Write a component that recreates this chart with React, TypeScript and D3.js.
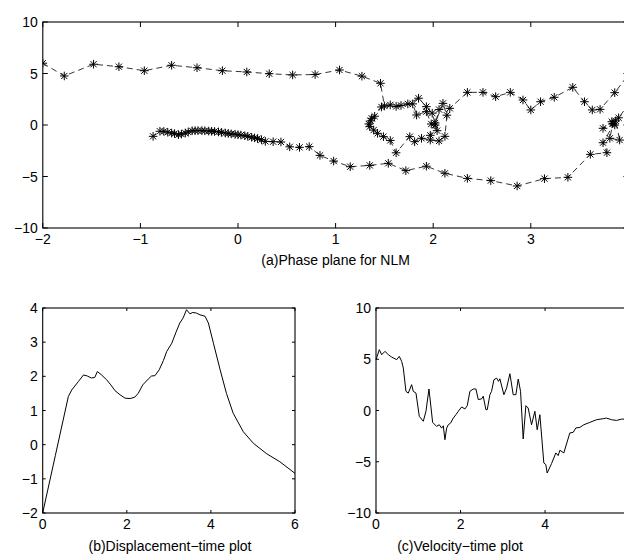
import React from "react";
import * as d3 from "d3";

// ---- Data ----
// (a) phase plane samples: [displacement, velocity]
const phaseX: number[] = [
  -2.0, -1.78, -1.48, -1.22, -0.96, -0.68, -0.42, -0.16, 0.09, 0.32, 0.56, 0.79, 1.04, 1.27, 1.46,
  1.5, 1.62, 1.74, 1.85, 1.93, 1.99, 2.04, 1.97, 2.02, 2.1, 2.14, 2.12, 2.06, 1.97, 1.88, 1.81, 1.76, 1.62,
  1.56, 1.49, 1.43, 1.39, 1.35, 1.34, 1.36, 1.37, 1.4, 1.47, 1.56, 1.67, 1.79, 1.83, 1.93, 1.98, 2.02, 2.06, 2.17,
  2.35, 2.51, 2.64, 2.79, 2.92, 3.0, 3.1, 3.24, 3.43, 3.55, 3.63, 3.71, 3.86, 4.01, 4.01, 3.9, 3.83, 3.86,
  3.74, 3.84, 3.81, 3.91, 3.87, 3.74, 3.78, 3.61,
  3.38, 3.14, 2.86, 2.59, 2.35, 2.12, 1.93, 1.72, 1.54, 1.35, 1.15, 0.98, 0.84, 0.73, 0.63, 0.53, 0.44, 0.36, 0.28,
  0.24, 0.2, 0.17, 0.14, 0.1, 0.07, 0.03, 0.0, -0.03, -0.07, -0.1, -0.13, -0.17, -0.2, -0.24, -0.27, -0.3,
  -0.34, -0.37, -0.41, -0.44, -0.47, -0.51, -0.54, -0.58, -0.61, -0.65, -0.68, -0.72, -0.76, -0.8, -0.87,
];
const phaseV: number[] = [
  6.0, 4.76, 5.9, 5.66, 5.27, 5.8, 5.56, 5.27, 5.15, 4.98, 4.86, 4.9, 5.34, 4.74, 4.05,
  1.85, 1.8, 2.05, 2.6, 1.78, 1.15, -0.55, -1.0, 0.2, 2.1, 0.95, -1.1, -1.55, -1.46, -1.29, -1.62, -1.13, -2.7,
  -1.5, -1.13, -0.81, -0.49, -0.16, 0.1, 0.4, 0.65, 0.85, 1.75, 1.95, 1.9, 2.05, 0.97, 1.3, 0.1, 0.0, 1.5, 1.62,
  3.17, 3.17, 2.75, 3.17, 2.43, 1.46, 2.26, 2.69, 3.66, 2.26, 1.46, 1.52, 3.14, 5.0, 2.1, 0.7, 0.32, 0.0,
  -0.32, 0.15, -1.29, -1.46, 0.4, -1.72, -2.69, -2.85,
  -5.08, -5.21, -5.92, -5.4, -5.18, -4.69, -4.0, -4.43, -3.72, -3.92, -4.05, -3.5, -2.95, -2.1, -2.17, -2.12, -1.65, -1.62, -1.59,
  -1.43, -1.32, -1.25, -1.19, -1.1, -1.04, -0.98, -0.94, -0.9, -0.86, -0.82, -0.78, -0.72, -0.67, -0.63, -0.61, -0.59,
  -0.56, -0.55, -0.55, -0.55, -0.56, -0.68, -0.78, -0.88, -0.94, -0.84, -0.78, -0.7, -0.62, -0.61, -1.1,
];

// (b) displacement vs time
const dispT: number[] = [
  0, 0.3, 0.61, 0.69, 0.85, 0.97, 1.06, 1.16, 1.24, 1.3, 1.4, 1.52, 1.62, 1.72, 1.84, 1.96, 2.08, 2.19, 2.27,
  2.38, 2.51, 2.59, 2.67, 2.77, 2.87, 2.95, 3.07, 3.17, 3.26, 3.34, 3.42, 3.5, 3.57, 3.66, 3.74, 3.86, 3.94,
  4.06, 4.22, 4.37, 4.53, 4.77, 5.01, 5.32, 5.64, 6.0,
];
const dispX: number[] = [
  -2.0, -0.32, 1.41, 1.6, 1.85, 2.04, 2.01, 1.95, 1.97, 2.14, 2.04, 1.9, 1.75, 1.58, 1.46, 1.36, 1.35, 1.39, 1.5,
  1.75, 1.92, 2.01, 2.02, 2.19, 2.46, 2.73, 2.97, 3.29, 3.56, 3.71, 3.95, 3.83, 3.87, 3.85, 3.8, 3.76, 3.56,
  2.97, 2.19, 1.5, 0.92, 0.38, 0.04, -0.26, -0.5, -0.84,
];

// (c) velocity vs time
const velT: number[] = [
  0, 0.079, 0.134, 0.213, 0.292, 0.37, 0.489, 0.551, 0.607, 0.646, 0.709, 0.764, 0.843, 0.882, 0.946,
  1.024, 1.119, 1.182, 1.253, 1.34, 1.434, 1.497, 1.553, 1.592, 1.631, 1.671, 1.71, 1.765, 1.828, 1.891,
  1.946, 2.025, 2.104, 2.159, 2.222, 2.301, 2.364, 2.42, 2.498, 2.537, 2.6, 2.632, 2.695, 2.734, 2.79,
  2.853, 2.9, 2.93, 3.026, 3.09, 3.168, 3.246, 3.31, 3.365, 3.42, 3.483, 3.546, 3.6, 3.68, 3.759, 3.814,
  3.877, 3.971, 4.018, 4.05, 4.153, 4.255, 4.31, 4.35, 4.444, 4.586, 4.665, 4.728, 4.823, 4.917, 5.059,
  5.217, 5.375, 5.454, 5.572, 5.69, 5.809, 6.0,
];
const velV: number[] = [
  4.96, 5.93, 5.44, 5.77, 5.44, 5.21, 4.96, 5.28, 4.8, 4.14, 1.87, 1.7, 2.52, 1.87, 1.7,
  -0.57, -1.05, -0.08, 2.1, -1.16, -1.55, -1.39, -1.72, -1.49, -2.85, -1.72, -1.39, -1.23, -0.74, -0.41,
  -0.08, 0.34, 0.15, 0.47, 1.87, 2.1, 2.1, 1.06, 1.13, 1.39, 0.08, 0.08, 1.54, 1.87, 3.0,
  3.16, 2.84, 3.1, 1.54, 2.19, 3.59, 1.54, 1.54, 3.07, 1.87, -2.78, 0.47, 0.24, -1.39, -0.08, -1.88,
  -0.41, -5.12, -5.28, -6.1, -5.18, -4.14, -4.4, -3.88, -4.14, -2.19, -2.13, -1.7, -1.65, -1.39, -1.16,
  -0.9, -0.8, -0.74, -0.9, -0.97, -0.84, -0.85,
];

const phaseXTicks = [-2, -1, 0, 1, 2, 3, 4];
const phaseYTicks = [-10, -5, 0, 5, 10];
const dispXTicks = [0, 2, 4, 6];
const dispYTicks = [-2, -1, 0, 1, 2, 3, 4];
const velXTicks = [0, 2, 4, 6];
const velYTicks = [-10, -5, 0, 5, 10];

const titleA = "(a)Phase plane for NLM";
const titleB = "(b)Displacement\u2212time plot";
const titleC = "(c)Velocity\u2212time plot";

const W = 624;
const H = 557;
const FONT = "'Liberation Sans', Arial, Helvetica, sans-serif";
const FS = 14;

const fmt = (v: number) => (v < 0 ? "\u2212" + Math.abs(v) : String(v));

type AxesProps = {
  x: d3.ScaleLinear<number, number>;
  y: d3.ScaleLinear<number, number>;
  xticks: number[];
  yticks: number[];
  tick: number;
};

function Axes({ x, y, xticks, yticks, tick }: AxesProps) {
  const [x0, x1] = x.range();
  const [y0, y1] = y.range(); // y0 bottom, y1 top
  return (
    <g>
      <rect x={x0} y={y1} width={x1 - x0} height={y0 - y1} fill="none" stroke="#000" strokeWidth={1.1} />
      {xticks.map((t) => (
        <g key={"x" + t}>
          <line x1={x(t)} x2={x(t)} y1={y0} y2={y0 - tick} stroke="#000" strokeWidth={1} />
          <line x1={x(t)} x2={x(t)} y1={y1} y2={y1 + tick} stroke="#000" strokeWidth={1} />
          {x(t) < W - 6 && (
            <text x={x(t)} y={y0 + 16} textAnchor="middle" fontFamily={FONT} fontSize={FS} fill="#000">
              {fmt(t)}
            </text>
          )}
        </g>
      ))}
      {yticks.map((t) => (
        <g key={"y" + t}>
          <line x1={x0} x2={x0 + tick} y1={y(t)} y2={y(t)} stroke="#000" strokeWidth={1} />
          <line x1={x1} x2={x1 - tick} y1={y(t)} y2={y(t)} stroke="#000" strokeWidth={1} />
          <text x={x0 - 5} y={y(t) + 5} textAnchor="end" fontFamily={FONT} fontSize={FS} fill="#000">
            {fmt(t)}
          </text>
        </g>
      ))}
    </g>
  );
}

function Star({ cx, cy }: { cx: number; cy: number }) {
  const r = 4.3;
  const d = r * 0.72;
  const p = `M${cx - r},${cy}H${cx + r}M${cx},${cy - r}V${cy + r}M${cx - d},${cy - d}L${cx + d},${cy + d}M${cx - d},${cy + d}L${cx + d},${cy - d}`;
  return <path d={p} stroke="#000" strokeWidth={1} fill="none" />;
}

export default function App() {
  // (a)
  const xa = d3.scaleLinear().domain([-2, 4]).range([42.8, 628.4]);
  const ya = d3.scaleLinear().domain([-10, 10]).range([228, 22]);
  const phasePts = phaseX.map((v, i) => [v, phaseV[i]] as [number, number]);
  const lineA = d3
    .line<[number, number]>()
    .x((d) => xa(d[0]))
    .y((d) => ya(d[1]));

  // (b)
  const xb = d3.scaleLinear().domain([0, 6]).range([42.7, 295]);
  const yb = d3.scaleLinear().domain([-2, 4]).range([513, 308]);
  const lineB = d3
    .line<number>()
    .x((_, i) => xb(dispT[i]))
    .y((d) => yb(d));

  // (c)
  const xc = d3.scaleLinear().domain([0, 6]).range([376, 629.6]);
  const yc = d3.scaleLinear().domain([-10, 10]).range([513, 308]);
  const lineC = d3
    .line<number>()
    .x((_, i) => xc(velT[i]))
    .y((d) => yc(d));

  return (
    <svg
      width={W}
      height={H}
      style={{ position: "absolute", left: 0, top: 0, background: "#fff" }}
      xmlns="http://www.w3.org/2000/svg"
    >
      <rect width={W} height={H} fill="#fff" />
      <defs>
        <clipPath id="clipA">
          <rect x={42.8} y={22} width={585.6} height={206} />
        </clipPath>
      </defs>

      {/* (a) Phase plane */}
      <g clipPath="url(#clipA)">
        <path d={lineA(phasePts) || ""} fill="none" stroke="#000" strokeWidth={0.8} strokeDasharray="6,4" />
        {phasePts.map((p, i) => (
          <Star key={i} cx={xa(p[0])} cy={ya(p[1])} />
        ))}
      </g>
      <Axes x={xa} y={ya} xticks={phaseXTicks} yticks={phaseYTicks} tick={5} />
      <text x={335.6} y={265} textAnchor="middle" fontFamily={FONT} fontSize={FS} fill="#000">
        {titleA}
      </text>

      {/* (b) Displacement */}
      <path d={lineB(dispX) || ""} fill="none" stroke="#000" strokeWidth={1} />
      <Axes x={xb} y={yb} xticks={dispXTicks} yticks={dispYTicks} tick={3} />
      <text x={170} y={551} textAnchor="middle" fontFamily={FONT} fontSize={FS} fill="#000">
        {titleB}
      </text>

      {/* (c) Velocity */}
      <path d={lineC(velV) || ""} fill="none" stroke="#000" strokeWidth={1} />
      <Axes x={xc} y={yc} xticks={velXTicks} yticks={velYTicks} tick={3} />
      <text x={460} y={551} textAnchor="middle" fontFamily={FONT} fontSize={FS} fill="#000">
        {titleC}
      </text>
    </svg>
  );
}
